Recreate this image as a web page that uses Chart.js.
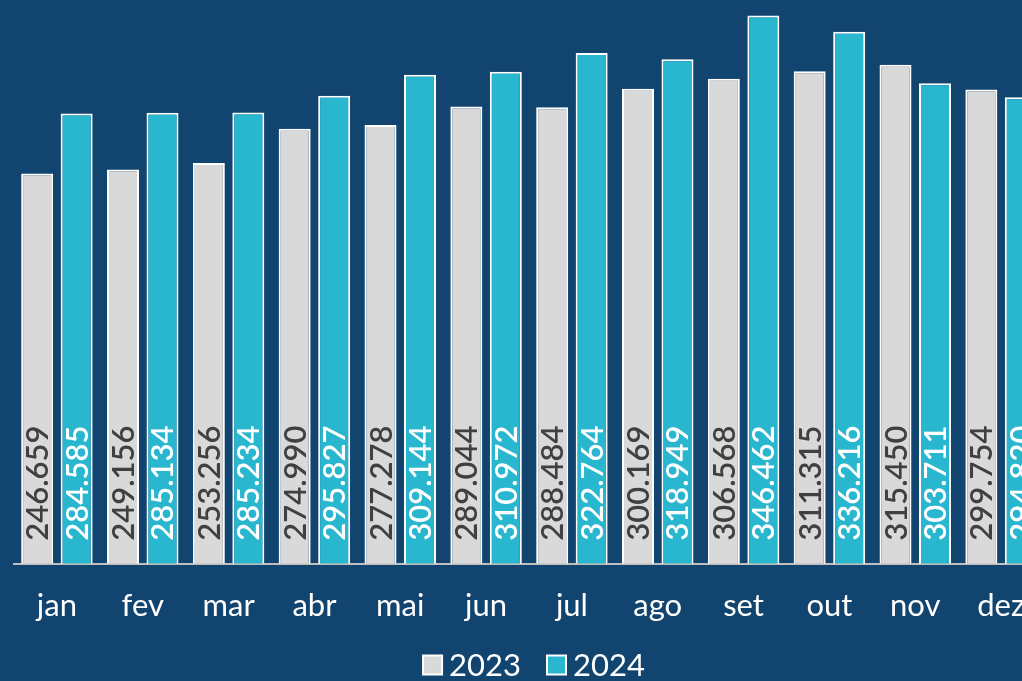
<!DOCTYPE html>
<html><head><meta charset="utf-8">
<script src="https://cdn.jsdelivr.net/npm/chart.js@4"></script>
<style>
html,body{margin:0;padding:0;background:#11446E;overflow:hidden;width:1022px;height:681px;}
#wrap{width:1066px;height:681px;position:relative;}
</style></head><body>
<div id="wrap"><canvas id="c" width="1066" height="681"></canvas></div>
<script>
const categories = ['jan','fev','mar','abr','mai','jun','jul','ago','set','out','nov','dez'];
const series2023 = [246659,249156,253256,274990,277278,289044,288484,300169,306568,311315,315450,299754];
const series2024 = [284585,285134,285234,295827,309144,310972,322764,318949,346462,336216,303711,294820];
const seriesNames = ['2023','2024'];

const fmt = v => v.toLocaleString('de-DE');
const labelPlugin = {
  id:'barLabels',
  afterDatasetsDraw(chart){
    const ctx = chart.ctx;
    chart.data.datasets.forEach((ds,i)=>{
      const meta = chart.getDatasetMeta(i);
      meta.data.forEach((bar,j)=>{
        ctx.save();
        ctx.translate(bar.x, bar.base - 23);
        ctx.rotate(-Math.PI/2);
        ctx.font = '600 31px Lato';
        ctx.fillStyle = i===0 ? '#404040' : '#FFFFFF';
        ctx.textAlign = 'left';
        ctx.textBaseline = 'middle';
        ctx.fillText(fmt(ds.data[j]),0,1);
        ctx.restore();
      });
    });
  }
};
const legendPlugin = {
  id:'customLegend',
  afterDraw(chart){
    const ctx = chart.ctx;
    ctx.save();
    ctx.font = '31px Lato';
    const box = 19, gap = 7, itemGap = 26;
    const items = chart.data.datasets.map(d=>({t:d.label,c:d.backgroundColor,w:ctx.measureText(d.label).width}));
    let total = items.reduce((s,it)=>s+box+gap+it.w,0) + itemGap*(items.length-1);
    let x = (chart.chartArea.left + chart.chartArea.right)/2 + 5 - total/2;
    const y = 665;
    items.forEach(it=>{
      ctx.fillStyle = it.c;
      ctx.fillRect(x, y-box/2, box, box);
      ctx.strokeStyle = '#FFFFFF'; ctx.lineWidth = 2;
      ctx.strokeRect(x, y-box/2, box, box);
      ctx.fillStyle = '#FFFFFF';
      ctx.textAlign='left'; ctx.textBaseline='middle';
      ctx.fillText(it.t, x+box+gap, y+1);
      x += box+gap+it.w+itemGap;
    });
    ctx.restore();
  }
};
new Chart(document.getElementById('c'),{
  type:'bar',
  data:{labels:categories,datasets:[
    {label:seriesNames[0],data:series2023,backgroundColor:'#D9D9D9',borderColor:'#FFFFFF',borderWidth:2,borderSkipped:'bottom'},
    {label:seriesNames[1],data:series2024,backgroundColor:'#29B6CF',borderColor:'#FFFFFF',borderWidth:2,borderSkipped:'bottom'}
  ]},
  options:{
    responsive:false,animation:false,
    layout:{padding:{left:14,right:22,top:10,bottom:40}},
    datasets:{bar:{categoryPercentage:0.92,barPercentage:0.81}},
    plugins:{legend:{display:false},tooltip:{enabled:false}},
    scales:{
      x:{grid:{display:false},border:{display:true,color:'#BFBFBF',width:2},
         ticks:{color:'#FFFFFF',font:{family:'Lato',size:31},padding:16}},
      y:{display:false,min:0,max:350000}
    }
  },
  plugins:[labelPlugin,legendPlugin]
});
</script></body></html>
